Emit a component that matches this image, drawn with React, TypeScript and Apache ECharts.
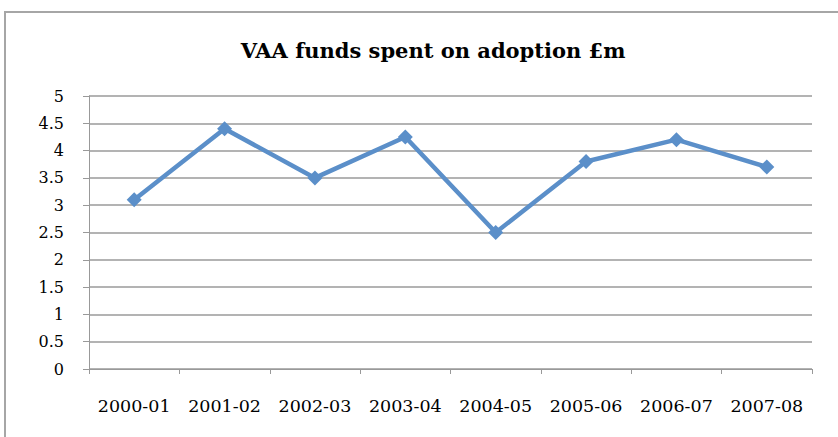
import React, { useEffect, useRef } from "react";
import * as echarts from "echarts";

const titleText = "VAA funds spent on adoption £m";
const categories = ["2000-01", "2001-02", "2002-03", "2003-04", "2004-05", "2005-06", "2006-07", "2007-08"];
const values = [3.1, 4.4, 3.5, 4.25, 2.5, 3.8, 4.2, 3.7];
const yMin = 0;
const yMax = 5;
const yStep = 0.5;

const FONT = "'DejaVu Serif', 'Liberation Serif', serif";

export default function App() {
  const ref = useRef<HTMLDivElement>(null);
  useEffect(() => {
    if (!ref.current) return;
    const chart = echarts.init(ref.current, undefined, { renderer: "svg" });
    chart.setOption({
      animation: false,
      backgroundColor: "#ffffff",
      title: {
        text: titleText,
        left: 428,
        textAlign: "center",
        top: 35,
        textStyle: { fontFamily: FONT, fontWeight: "bold", fontSize: 21, color: "#000" },
      },
      graphic: [
        {
          type: "rect",
          shape: { x: 5, y: 12, width: 850, height: 450 },
          style: { fill: "none", stroke: "#a6a6a6", lineWidth: 2 },
          silent: true,
        },
      ],
      grid: { left: 89, right: 26, top: 96, bottom: 68 },
      xAxis: {
        type: "category",
        data: categories,
        boundaryGap: true,
        axisLine: { show: true, lineStyle: { color: "#999999", width: 1 } },
        axisTick: { show: true, interval: 0, length: 5, inside: false, lineStyle: { color: "#999999" } },
        axisLabel: { interval: 0, hideOverlap: false, fontFamily: FONT, fontSize: 17.5, color: "#000", margin: 28 },
        splitLine: { show: false },
      },
      yAxis: {
        type: "value",
        min: yMin,
        max: yMax,
        interval: yStep,
        axisLine: { show: true, lineStyle: { color: "#999999", width: 1 } },
        axisTick: { show: true, length: 6, lineStyle: { color: "#999999" } },
        axisLabel: { fontFamily: FONT, fontSize: 16, color: "#000", margin: 25 },
        splitLine: { show: true, lineStyle: { color: "#9a9a9a", width: 1.5 } },
      },
      series: [
        {
          type: "line",
          data: values,
          symbol: "diamond",
          symbolSize: 15,
          lineStyle: { color: "#5b8fc9", width: 4.5 },
          itemStyle: { color: "#5b8fc9" },
        },
      ],
    });
    return () => chart.dispose();
  }, []);
  return (
    <div
      ref={ref}
      style={{ position: "absolute", left: 0, top: 0, width: 838, height: 437 }}
    />
  );
}
